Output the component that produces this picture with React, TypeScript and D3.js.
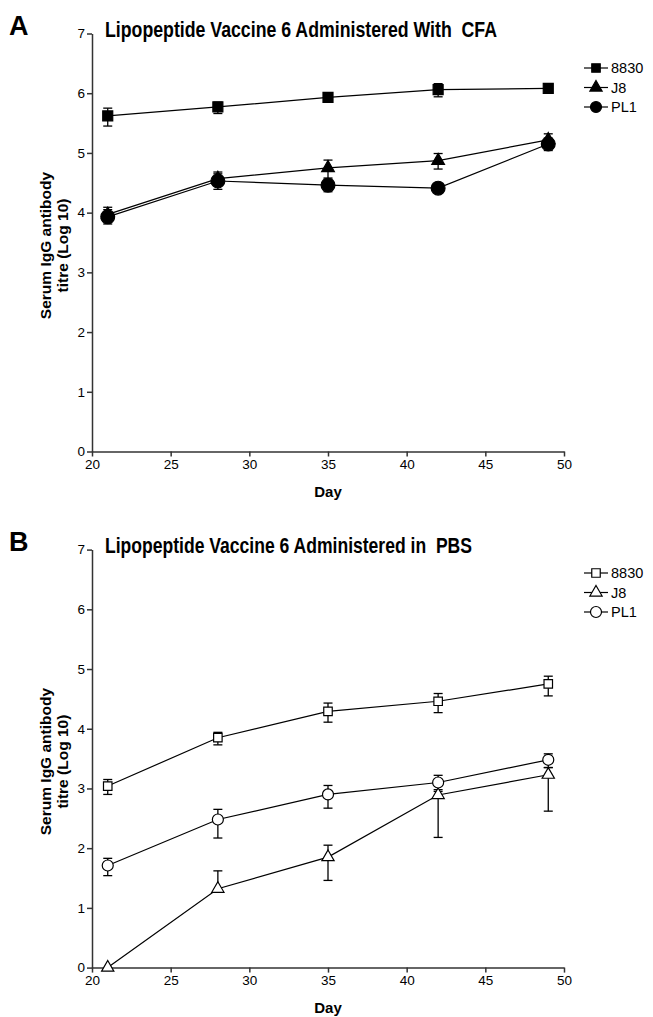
import React, { useEffect, useRef } from 'react';
import * as d3 from 'd3';

const days = [21, 28, 35, 42, 49];
const xTicks = [20, 25, 30, 35, 40, 45, 50];
const yTicks = [0, 1, 2, 3, 4, 5, 6, 7];
const seriesNames = ['8830', 'J8', 'PL1'];

// Panel A: with CFA (mean, upper and lower whisker ends)
const cfa8830 = [5.62, 5.77, 5.93, 6.06, 6.08];
const cfa8830Hi = [5.75, 5.85, 6.0, 6.16, 6.11];
const cfa8830Lo = [5.45, 5.66, 5.86, 5.94, 6.05];
const cfaJ8 = [3.97, 4.57, 4.75, 4.87, 5.22];
const cfaJ8Hi = [4.09, 4.68, 4.88, 4.99, 5.32];
const cfaJ8Lo = [3.87, 4.46, 4.58, 4.73, 5.12];
const cfaPL1 = [3.93, 4.53, 4.46, 4.41, 5.15];
const cfaPL1Hi = [4.05, 4.65, 4.56, 4.47, 5.25];
const cfaPL1Lo = [3.81, 4.39, 4.35, 4.35, 5.04];

// Panel B: in PBS
const pbs8830 = [3.04, 3.85, 4.29, 4.46, 4.75];
const pbs8830Hi = [3.15, 3.94, 4.43, 4.59, 4.88];
const pbs8830Lo = [2.9, 3.73, 4.11, 4.27, 4.55];
const pbsJ8 = [0, 1.32, 1.85, 2.89, 3.23];
const pbsJ8Hi = [0, 1.62, 2.05, 2.95, 3.35];
const pbsJ8Lo = [0, 1.32, 1.46, 2.18, 2.62];
const pbsPL1 = [1.71, 2.48, 2.9, 3.1, 3.48];
const pbsPL1Hi = [1.83, 2.65, 3.05, 3.22, 3.58];
const pbsPL1Lo = [1.54, 2.17, 2.67, 2.98, 3.35];

const FONT = 'Arial, "Liberation Sans", sans-serif';

function drawPanel(svg, cfg) {
  const { top, letter, title, titleLen, filled, series, legendY } = cfg;
  const x = d3.scaleLinear().domain([20, 50]).range([92, 564]);
  const y = d3.scaleLinear().domain([0, 7]).range([top + 418, top]);
  const g = svg.append('g');

  // axes
  const xAxis = g.append('g').attr('transform', `translate(0, ${y(0)})`)
    .call(d3.axisBottom(x).tickValues(xTicks).tickFormat(d3.format('d'))
      .tickSize(5).tickPadding(3).tickSizeOuter(0));
  const yAxis = g.append('g').attr('transform', `translate(${x(20)}, 0)`)
    .call(d3.axisLeft(y).tickValues(yTicks).tickFormat(d3.format('d'))
      .tickSize(5).tickPadding(2).tickSizeOuter(0));
  [xAxis, yAxis].forEach((a) => {
    a.selectAll('path,line').attr('stroke', '#333').attr('stroke-width', 1.5);
    a.selectAll('text').attr('fill', '#000').style('font-family', FONT).style('font-size', '13.5px');
  });

  const lineGen = d3.line().x((d) => x(d[0])).y((d) => y(d[1]));

  series.forEach((s) => {
    // error bars
    days.forEach((day, i) => {
      const cx = x(day);
      const yHi = y(s.hi[i]);
      const yLo = y(s.lo[i]);
      if (Math.abs(yHi - yLo) < 0.5) return;
      g.append('line').attr('x1', cx).attr('x2', cx).attr('y1', yHi).attr('y2', yLo)
        .attr('stroke', '#000').attr('stroke-width', 1.3);
      [yHi, yLo].forEach((yy) => {
        if (Math.abs(yy - y(s.vals[i])) < 0.5) return;
        g.append('line').attr('x1', cx - 4.5).attr('x2', cx + 4.5).attr('y1', yy).attr('y2', yy)
          .attr('stroke', '#000').attr('stroke-width', 1.3);
      });
    });
    g.append('path').datum(days.map((d, i) => [d, s.vals[i]]))
      .attr('d', lineGen).attr('fill', 'none').attr('stroke', '#000').attr('stroke-width', 1.2);
  });

  const drawMarker = (sel, shape, cx, cy, big) => {
    const fill = filled ? '#000' : '#fff';
    const sizes = big ? { square: 100, triangle: 70, circle: 150 } : { square: 72, triangle: 65, circle: 95 };
    const sym = shape === 'square' ? d3.symbolSquare : shape === 'triangle' ? d3.symbolTriangle : d3.symbolCircle;
    sel.append('path')
      .attr('d', d3.symbol().type(sym).size(sizes[shape])())
      .attr('transform', `translate(${cx}, ${cy})`)
      .attr('fill', fill).attr('stroke', '#000').attr('stroke-width', 1.2);
  };

  series.forEach((s) => {
    days.forEach((day, i) => drawMarker(g, s.shape, x(day), y(s.vals[i]), filled));
  });

  // legend
  series.forEach((s, i) => {
    const ly = legendY + i * 19.5;
    g.append('line').attr('x1', 584).attr('x2', 608).attr('y1', ly).attr('y2', ly)
      .attr('stroke', '#000').attr('stroke-width', 1.2);
    drawMarker(g, s.shape, 596, ly, false);
    g.append('text').attr('x', 611).attr('y', ly + 5).text(s.name)
      .style('font-family', FONT).style('font-size', '14.5px');
  });

  // titles
  g.append('text').attr('x', 9).attr('y', top + 1).text(letter)
    .style('font-family', FONT).style('font-size', '27px').style('font-weight', 'bold');
  g.append('text').attr('x', 105).attr('y', top + 3).text(title)
    .attr('textLength', titleLen).attr('lengthAdjust', 'spacingAndGlyphs')
    .style('white-space', 'pre')
    .style('font-family', FONT).style('font-size', '22px').style('font-weight', 'bold');

  const yMid = top + 212;
  const yl = g.append('text').attr('transform', `translate(51, ${yMid}) rotate(-90)`)
    .attr('text-anchor', 'middle')
    .style('font-family', FONT).style('font-size', '15.5px').style('font-weight', 'bold');
  yl.append('tspan').attr('x', 0).attr('y', 0).text('Serum IgG antibody');
  yl.append('tspan').attr('x', 0).attr('y', 17).text('titre (Log 10)');

  g.append('text').attr('x', 328).attr('y', y(0) + 45).attr('text-anchor', 'middle').text('Day')
    .style('font-family', FONT).style('font-size', '15px').style('font-weight', 'bold');
}

export default function App() {
  const ref = useRef(null);

  useEffect(() => {
    const svg = d3.select(ref.current);
    svg.selectAll('*').remove();
    const shapes = ['square', 'triangle', 'circle'];

    drawPanel(svg, {
      top: 33.5,
      letter: 'A',
      title: 'Lipopeptide Vaccine 6 Administered With  CFA',
      titleLen: 392,
      filled: true,
      legendY: 68,
      series: [
        { vals: cfa8830, hi: cfa8830Hi, lo: cfa8830Lo },
        { vals: cfaJ8, hi: cfaJ8Hi, lo: cfaJ8Lo },
        { vals: cfaPL1, hi: cfaPL1Hi, lo: cfaPL1Lo }
      ].map((s, i) => ({ ...s, name: seriesNames[i], shape: shapes[i] }))
    });

    drawPanel(svg, {
      top: 549.6,
      letter: 'B',
      title: 'Lipopeptide Vaccine 6 Administered in  PBS',
      titleLen: 367,
      filled: false,
      legendY: 573,
      series: [
        { vals: pbs8830, hi: pbs8830Hi, lo: pbs8830Lo },
        { vals: pbsJ8, hi: pbsJ8Hi, lo: pbsJ8Lo },
        { vals: pbsPL1, hi: pbsPL1Hi, lo: pbsPL1Lo }
      ].map((s, i) => ({ ...s, name: seriesNames[i], shape: shapes[i] }))
    });
  }, []);

  return (
    <svg ref={ref} width={653} height={1017}
      style={{ position: 'absolute', left: 0, top: 0, background: '#fff' }} />
  );
}
